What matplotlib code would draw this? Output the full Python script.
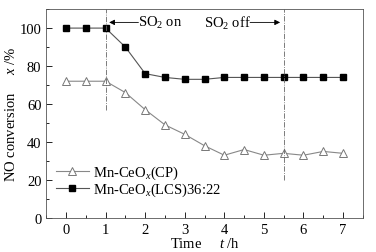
import numpy as np
import matplotlib.pyplot as plt

plt.rcParams['font.family'] = ['Liberation Serif', 'DejaVu Serif']
plt.rcParams['mathtext.fontset'] = 'custom'
plt.rcParams['mathtext.rm'] = 'Liberation Serif'
plt.rcParams['mathtext.it'] = 'Liberation Serif:italic'

# data
time_h = [0, 0.5, 1, 1.5, 2, 2.5, 3, 3.5, 4, 4.5, 5, 5.5, 6, 6.5, 7]
cp = [72, 72, 72, 66, 57, 49, 44, 38, 33, 36, 33, 34, 33, 35, 34]
lcs = [100, 100, 100, 90, 76, 74, 73, 73, 74, 74, 74, 74, 74, 74, 74]
so2_on = 1.0
so2_off = 5.5

fs = 10.5

fig, ax = plt.subplots(figsize=(3.76, 2.53), dpi=100)
fig.subplots_adjust(left=0.123, right=0.965, top=0.96, bottom=0.135)

ax.plot(time_h, cp, '-', color='#888888', lw=0.8, marker='^', ms=5.5,
        mfc='white', mec='#777777', mew=0.7, label=r'Mn-CeO$_{\mathit{x}}$(CP)')
ax.plot(time_h, lcs, '-', color='#555555', lw=0.8, marker='s', ms=4,
        mfc='black', mec='black', label=r'Mn-CeO$_{\mathit{x}}$(LCS)36:22')

ax.plot([so2_on, so2_on], [57, 110], color='#666666', lw=0.6, ls='-.')
ax.plot([so2_off, so2_off], [20, 110], color='#666666', lw=0.6, ls='-.')

ax.annotate('', xy=(so2_on + 0.02, 103), xytext=(1.9, 103),
            arrowprops=dict(arrowstyle='-|>', color='black', lw=0.6, mutation_scale=8))
ax.text(2.37, 103, r'SO$_2$ on', ha='center', va='center', fontsize=fs)
ax.text(4.08, 103, r'SO$_2$ off', ha='center', va='center', fontsize=fs)
ax.annotate('', xy=(so2_off - 0.02, 103), xytext=(4.58, 103),
            arrowprops=dict(arrowstyle='-|>', color='black', lw=0.6, mutation_scale=8))

ax.set_xlim(-0.5, 7.5)
ax.set_ylim(0, 110)
ax.set_xticks(range(0, 8))
ax.set_xticks(np.arange(-0.5, 7.6, 0.5), minor=True)
ax.set_yticks(range(0, 101, 20))
ax.set_yticks(range(0, 111, 10), minor=True)
ax.tick_params(which='both', direction='in', top=False, right=False, labelsize=fs)
ax.tick_params(which='major', length=4, width=0.6)
ax.tick_params(which='minor', length=2, width=0.6)
for s in ax.spines.values():
    s.set_linewidth(0.6)
    s.set_color('#555555')

ax.set_xlabel(r'Time     $\mathit{t}$ /h', fontsize=fs, labelpad=0)
ax.set_ylabel(r'NO conversion     $\mathit{x}$ /%', fontsize=fs, labelpad=1)

ax.legend(loc='lower left', bbox_to_anchor=(0.0, 0.045), frameon=False, fontsize=fs,
          handlelength=2.2, handletextpad=0.3, labelspacing=0.0, borderaxespad=0.3)

fig.savefig('out.png', dpi=100)
